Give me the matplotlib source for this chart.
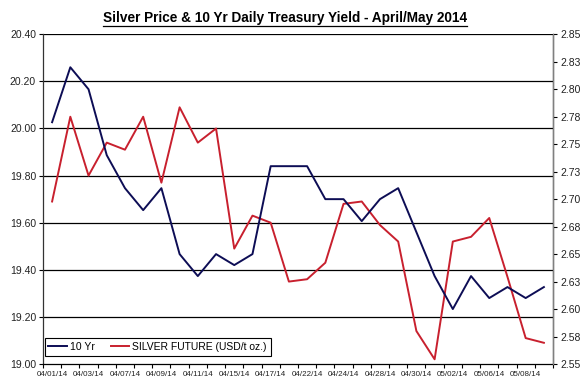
import matplotlib
matplotlib.use('Agg')
import matplotlib.pyplot as plt
from matplotlib.lines import Line2D
import numpy as np

plt.rcParams['font.family'] = ['Liberation Sans', 'DejaVu Sans']

dates = ['04/01/14', '04/02/14', '04/03/14', '04/04/14', '04/07/14', '04/08/14',
         '04/09/14', '04/10/14', '04/11/14', '04/14/14', '04/15/14', '04/16/14',
         '04/17/14', '04/21/14', '04/22/14', '04/23/14', '04/24/14', '04/25/14',
         '04/28/14', '04/29/14', '04/30/14', '05/01/14', '05/02/14', '05/05/14',
         '05/06/14', '05/07/14', '05/08/14', '05/09/14']
yield_10yr = [2.77, 2.82, 2.80, 2.74, 2.71, 2.69, 2.71, 2.65, 2.63, 2.65, 2.64, 2.65,
              2.73, 2.73, 2.73, 2.70, 2.70, 2.68, 2.70, 2.71, 2.67, 2.63, 2.60, 2.63,
              2.61, 2.62, 2.61, 2.62]
silver = [19.69, 20.05, 19.80, 19.94, 19.91, 20.05, 19.77, 20.09, 19.94, 20.00,
          19.49, 19.63, 19.60, 19.35, 19.36, 19.43, 19.68, 19.69, 19.59, 19.52,
          19.14, 19.02, 19.52, 19.54, 19.62, 19.37, 19.11, 19.09]
left_ticks = [19.00, 19.20, 19.40, 19.60, 19.80, 20.00, 20.20, 20.40]
right_ticks = [2.55, 2.575, 2.60, 2.625, 2.65, 2.675, 2.70, 2.725, 2.75, 2.775, 2.80, 2.825, 2.85]
right_labels = ['2.55', '2.58', '2.60', '2.63', '2.65', '2.68', '2.70', '2.73', '2.75',
                '2.78', '2.80', '2.83', '2.85']

W, H = 586, 388
fig = plt.figure(figsize=(W / 100, H / 100), dpi=100)
L, R, T, B = 43, 553, 34.3, 364
ax = fig.add_axes([L / W, 1 - B / H, (R - L) / W, (B - T) / H])
ax2 = ax.twinx()

x = np.arange(len(dates))
navy = '#0d0d55'
red = '#c8202e'

ax.plot(x, silver, color=red, lw=1.4, label='SILVER FUTURE (USD/t oz.)', zorder=3)
ax2.plot(x, yield_10yr, color=navy, lw=1.4, label='10 Yr', zorder=3)

ax.set_xlim(-0.5, len(dates) - 0.5)
ax.set_ylim(19.0, 20.4)
ax.set_yticks(left_ticks)
ax.set_yticklabels(['%.2f' % v for v in left_ticks], fontsize=7.5, color='#222222')
ax2.set_ylim(2.55, 2.85)
ax2.set_yticks(right_ticks)
ax2.set_yticklabels(right_labels, fontsize=7.5, color='#222222')

for v in left_ticks[1:]:
    ax.axhline(v, color='black', lw=0.9, zorder=1)

ax.set_xticks(x[::2])
ax.set_xticklabels(dates[::2], fontsize=5.8, color='#222222')
ax.set_xticks(np.arange(-0.5, len(dates), 1), minor=True)
ax.tick_params(axis='x', which='major', length=0, pad=5)
ax.tick_params(axis='x', which='minor', length=3, width=0.8, direction='out')
ax.tick_params(axis='y', length=3, width=0.8, direction='out', pad=2)
ax2.tick_params(axis='y', length=3, width=0.8, direction='out', pad=2)

for a in (ax, ax2):
    a.spines['top'].set_visible(False)
    a.patch.set_visible(False)
ax.spines['left'].set_color('#333333')
ax.spines['bottom'].set_color('black')
ax2.spines['right'].set_color('#808080')
ax2.spines['left'].set_visible(False)
ax2.spines['bottom'].set_visible(False)
for s in ax.spines.values():
    s.set_linewidth(0.9)
ax2.spines['right'].set_linewidth(0.9)

handles = [Line2D([], [], color=navy, lw=1.4), Line2D([], [], color=red, lw=1.4)]
leg = ax2.legend(handles, ['10 Yr', 'SILVER FUTURE (USD/t oz.)'], loc='lower left',
                 bbox_to_anchor=(0.003, 0.025), ncol=2, fontsize=7.5, frameon=True,
                 fancybox=False, edgecolor='black', framealpha=1, handlelength=1.8,
                 handletextpad=0.3, columnspacing=1.5, borderpad=0.35, borderaxespad=0)
leg.get_frame().set_linewidth(0.8)

title = 'Silver Price & 10 Yr Daily Treasury Yield - April/May 2014'
tx = fig.text(285 / W, 1 - 18 / H, title, ha='center', va='center', fontsize=9.8,
              fontweight='bold')
fig.canvas.draw()
bb = tx.get_window_extent()
fig.add_artist(Line2D([bb.x0 / W, bb.x1 / W], [(bb.y0 - 1) / H, (bb.y0 - 1) / H],
                      color='black', lw=0.9, transform=fig.transFigure))

fig.savefig('out.png', dpi=100, facecolor='white')
